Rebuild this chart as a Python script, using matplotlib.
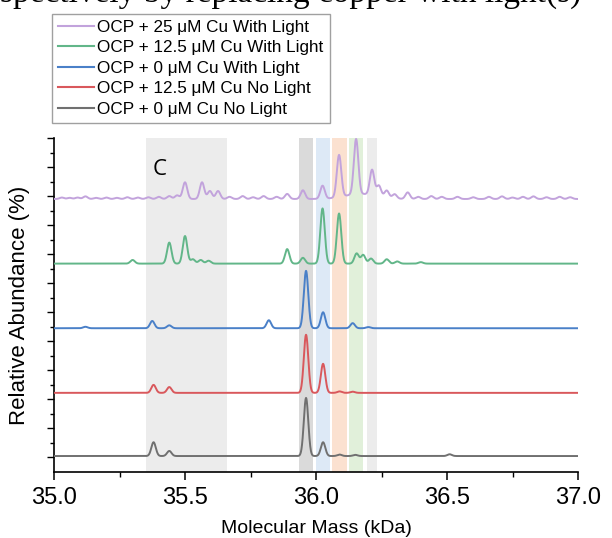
import numpy as np
import matplotlib
matplotlib.use("Agg")
import matplotlib.pyplot as plt
from matplotlib.ticker import MultipleLocator, FixedLocator

# ---------------- data ----------------
series_labels = ["OCP + 25 \u03bcM Cu With Light",
                 "OCP + 12.5 \u03bcM Cu With Light",
                 "OCP + 0 \u03bcM Cu With Light",
                 "OCP + 12.5 \u03bcM Cu No Light",
                 "OCP + 0 \u03bcM Cu No Light"]

# peak centres (kDa) and heights (relative units) for each trace
purple_pos = [35.03, 35.06, 35.09, 35.12, 35.16, 35.20, 35.24, 35.28, 35.32, 35.36,
              35.40, 35.44, 35.47, 35.50, 35.565, 35.595, 35.626, 35.67, 35.72,
              35.76, 35.80, 35.85, 35.89, 35.95, 36.025, 36.088, 36.153, 36.214,
              36.24, 36.27, 36.30, 36.35, 36.39, 36.44, 36.48, 36.54, 36.60,
              36.66, 36.71, 36.75, 36.79, 36.83, 36.88, 36.93, 36.97]
purple_h = [0.10, 0.08, 0.10, 0.18, 0.08, 0.10, 0.08, 0.12, 0.10, 0.12,
            0.15, 0.20, 0.25, 1.15, 1.15, 0.55, 0.55, 0.15, 0.20,
            0.12, 0.20, 0.15, 0.35, 0.60, 0.90, 2.90, 3.80, 1.75,
            0.75, 0.50, 0.30, 0.45, 0.15, 0.20, 0.15, 0.15, 0.12,
            0.15, 0.18, 0.10, 0.15, 0.18, 0.12, 0.15, 0.12]

green_pos = [35.30, 35.44, 35.50, 35.53, 35.56, 35.59, 35.89, 35.95, 36.025,
             36.088, 36.155, 36.18, 36.21, 36.27, 36.31, 36.40]
green_h = [0.25, 1.45, 1.90, 0.30, 0.25, 0.20, 1.00, 0.40, 3.80,
           3.45, 0.70, 0.60, 0.35, 0.30, 0.15, 0.10]

blue_pos = [35.12, 35.375, 35.44, 35.82, 35.962, 36.027, 36.14, 36.20]
blue_h = [0.10, 0.50, 0.20, 0.55, 3.95, 1.10, 0.35, 0.08]

red_pos = [35.38, 35.44, 35.962, 36.027, 36.09, 36.14]
red_h = [0.55, 0.40, 4.00, 2.00, 0.10, 0.08]

gray_pos = [35.38, 35.44, 35.962, 36.027, 36.09, 36.15, 36.51]
gray_h = [0.95, 0.35, 4.00, 0.95, 0.10, 0.08, 0.12]

# vertical offsets of each trace
offsets = [18.8, 14.35, 9.9, 5.45, 1.1]

# shaded mass windows (kDa)
band_starts = [35.35, 35.935, 36.000, 36.061, 36.126, 36.195]
band_ends = [35.66, 35.990, 36.053, 36.118, 36.180, 36.233]

x_ticks = [35.0, 35.5, 36.0, 36.5, 37.0]

# ---------------- styling ----------------
colors = ["#c2a3dc", "#62b689", "#4a80c8", "#d9585c", "#707070"]
band_colors = ["#ececec", "#dadada", "#dde9f6", "#fbe1d0", "#e1f0da", "#ececec"]

fig = plt.figure(figsize=(6.12, 5.38), dpi=100)
ax = fig.add_axes([54/612, 1-472/538, (578-54)/612, (472-138)/538])

for s, e, c in zip(band_starts, band_ends, band_colors):
    ax.axvspan(s, e, color=c, lw=0, zorder=0)

xg = np.linspace(35.0, 37.0, 4001)
sigma = 0.0085

def spectrum(pos, h, off):
    y = np.full_like(xg, off)
    for p, hh in zip(pos, h):
        y += hh * np.exp(-0.5 * ((xg - p) / sigma) ** 2)
    return y

all_pos = [purple_pos, green_pos, blue_pos, red_pos, gray_pos]
all_h = [purple_h, green_h, blue_h, red_h, gray_h]
for i, (pos, h, off, c, lab) in enumerate(zip(all_pos, all_h, offsets, colors, series_labels)):
    y = spectrum(pos, h, off)
    if i == 0:
        y += 0.35 * np.exp(-0.5 * ((xg - 36.17) / 0.06) ** 2)
    ax.plot(xg, y, color=c, lw=1.4, label=lab, zorder=3)

ax.set_xlim(35.0, 37.0)
ax.set_ylim(0, 23)
ax.xaxis.set_major_locator(FixedLocator(x_ticks))
ax.xaxis.set_minor_locator(MultipleLocator(0.25))
ax.set_xticklabels([f"{t:.1f}" for t in x_ticks])
ax.yaxis.set_major_locator(FixedLocator(np.arange(1, 24, 2)))
ax.yaxis.set_minor_locator(FixedLocator(np.arange(2, 23, 2)))
ax.set_yticklabels([])
ax.tick_params(axis="x", which="major", direction="out", length=6, width=1.1,
               labelsize=17, pad=5)
ax.tick_params(axis="x", which="minor", direction="out", length=3.5, width=1.0)
ax.tick_params(axis="y", which="major", direction="out", length=5, width=1.0)
ax.tick_params(axis="y", which="minor", direction="out", length=3, width=1.0)
for lbl in ax.get_xticklabels():
    lbl.set_family("Liberation Sans")
for sp in ["top", "right"]:
    ax.spines[sp].set_visible(False)
for sp in ["left", "bottom"]:
    ax.spines[sp].set_linewidth(1.2)

ax.set_xlabel("Molecular Mass (kDa)", family="Liberation Sans", fontsize=14, labelpad=8)
ax.set_ylabel("Relative Abundance (%)", family="Liberation Sans", fontsize=16, labelpad=9)

ax.text(35.405, 20.8, "C", family="Open Sans", fontsize=16, ha="center", va="center")

leg = fig.legend(loc="upper left", bbox_to_anchor=(52/612, 1-14/538), borderaxespad=0,
                 prop={"family": "Liberation Sans", "size": 12.3}, fancybox=False,
                 framealpha=1, edgecolor="#a0a0a0", handlelength=2.1, handletextpad=0.2,
                 labelspacing=0.32, borderpad=0.35)
leg.get_frame().set_linewidth(1.0)
for line in leg.get_lines():
    line.set_linewidth(1.5)

fig.text(0.0, 1 - 1.5/538, "spectively by replacing copper with light(s)",
         family="Liberation Serif", fontsize=24, ha="left", va="baseline")

fig.savefig("out.png", dpi=100)
